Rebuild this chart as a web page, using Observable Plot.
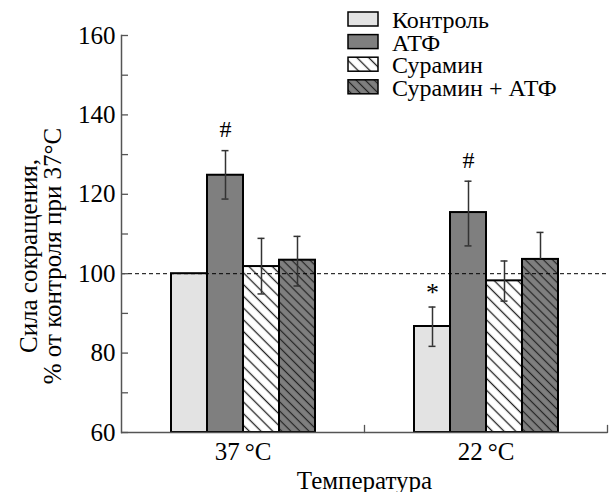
<!DOCTYPE html>
<html><head><meta charset="utf-8">
<script src="https://cdn.jsdelivr.net/npm/d3@7"></script>
<script src="https://cdn.jsdelivr.net/npm/@observablehq/plot@0.6"></script>
<style>
body{margin:0;background:#fff;}
#chart{position:relative;width:613px;height:492px;}
</style>
</head><body>
<svg width="0" height="0" style="position:absolute">
<defs>
<pattern id="hatchLight" patternUnits="userSpaceOnUse" width="8.3" height="8.3" patternTransform="rotate(-45)">
<rect width="8.3" height="8.3" fill="#ffffff"/>
<line x1="4.15" y1="-1" x2="4.15" y2="9.3" stroke="#222" stroke-width="1.3"/>
</pattern>
<pattern id="hatchDark" patternUnits="userSpaceOnUse" width="6.4" height="6.4" patternTransform="rotate(-45)">
<rect width="6.4" height="6.4" fill="#7f7f7f"/>
<line x1="3.2" y1="-1" x2="3.2" y2="7.4" stroke="#222" stroke-width="1.2"/>
</pattern>
</defs></svg>
<div id="chart"></div>
<script>
// ---- data ----
const groups = ["37\u2009°C", "22\u2009°C"];
const series = ["Контроль", "АТФ", "Сурамин", "Сурамин + АТФ"];
const means37 = [100, 124.8, 101.8, 103.4];
const errUp37 = [0, 6.2, 7.1, 6.0];
const errLow37 = [0, 6.0, 6.9, 6.5];
const means22 = [86.7, 115.4, 98.2, 103.6];
const errUp22 = [4.9, 7.9, 5.0, 6.8];
const errLow22 = [5.0, 8.4, 5.1, 0];
const sig37 = ["", "#", "", ""];
const sig22 = ["*", "#", "", ""];
const yTicks = [60, 80, 100, 120, 140, 160];
const yAllTicks = [60, 70, 80, 90, 100, 110, 120, 130, 140, 150, 160];
const referenceLevel = [100];
const fills = ["#e3e3e3", "#7f7f7f", "url(#hatchLight)", "url(#hatchDark)"];
const yLabel = "Сила сокращения,\n% от контроля при 37°С";
const xLabel = "Температура";

const rows = [];
series.forEach((s, i) => {
  rows.push({group: groups[0], series: s, mean: means37[i], up: errUp37[i], low: errLow37[i], sig: sig37[i]});
});
series.forEach((s, i) => {
  rows.push({group: groups[1], series: s, mean: means22[i], up: errUp22[i], low: errLow22[i], sig: sig22[i]});
});

const font = "\"Liberation Serif\", \"Times New Roman\", Times, serif";
const axisColor = "#555";

const plot = Plot.plot({
  width: 613, height: 492,
  marginLeft: 121, marginRight: 6, marginTop: 35, marginBottom: 60,
  style: {fontFamily: font, fontSize: "25px", color: "#000", background: "#fff"},
  fx: {domain: groups, padding: 0},
  x: {domain: series, paddingInner: 0, paddingOuter: 1.33, axis: null},
  y: {domain: [60, 160], axis: null},
  color: {domain: series, range: fills},
  marks: [
    Plot.barY(rows, {fx: "group", x: "series", y1: 60, y2: "mean", fill: "series", stroke: "#000", strokeWidth: 2}),
    Plot.ruleY(referenceLevel, {stroke: "#000", strokeWidth: 1, strokeDasharray: "4,3"}),
    Plot.ruleX(rows.filter(d => d.up > 0), {fx: "group", x: "series", y1: d => d.mean - d.low, y2: d => d.mean + d.up, stroke: "#333", strokeWidth: 1.5}),
    Plot.tickY(rows.filter(d => d.up > 0), {fx: "group", x: "series", y: d => d.mean + d.up, stroke: "#333", strokeWidth: 1.5, inset: 14.5}),
    Plot.tickY(rows.filter(d => d.low > 0), {fx: "group", x: "series", y: d => d.mean - d.low, stroke: "#333", strokeWidth: 1.5, inset: 14.5}),
    Plot.text(rows.filter(d => d.sig === "#"), {fx: "group", x: "series", y: d => d.mean + d.up, text: "sig", dy: -21, fontSize: 24}),
    Plot.text(rows.filter(d => d.sig === "*"), {fx: "group", x: "series", y: d => d.mean + d.up, text: "sig", dy: -14, fontSize: 26}),
    // axes
    Plot.ruleY([60], {stroke: axisColor, strokeWidth: 1.5}),
    Plot.frame({anchor: "left", facetAnchor: "left", stroke: axisColor, strokeWidth: 1.5}),
    Plot.axisY(yTicks, {anchor: "left", tickSize: 0, tickPadding: 6, fontSize: 25, label: null}),
    Plot.axisY(yAllTicks, {anchor: "left", tickSize: -7, fill: "none", stroke: axisColor, strokeWidth: 1.3, label: null}),
    Plot.vector([0], {frameAnchor: "bottom-right", anchor: "start", rotate: 0, length: 7, stroke: axisColor, strokeWidth: 1.3,
      shape: {draw(ctx, l) { ctx.moveTo(0, 0); ctx.lineTo(0, -l); }}}),
    Plot.axisFx({anchor: "bottom", tickSize: 0, tickPadding: 10, fontSize: 25, label: xLabel, labelAnchor: "center", labelOffset: 56, labelArrow: "none"}),
    Plot.text([groups[0]], {fx: d => d, frameAnchor: "left", textAnchor: "middle", text: () => yLabel, rotate: -90, dx: -80, dy: 22, fontSize: 25, lineHeight: 0.96})
  ]
});

// legend
const svg = d3.select(plot);
const lg = svg.append("g").attr("class", "legend").attr("text-anchor", "start");
series.forEach((s, i) => {
  const y0 = 12 + 22.6 * i;
  lg.append("rect").attr("x", 348).attr("y", y0).attr("width", 30).attr("height", 14)
    .attr("fill", fills[i]).attr("stroke", "#000").attr("stroke-width", 1.5);
  lg.append("text").attr("x", 392).attr("y", y0 + 16).attr("font-size", 24)
    .attr("font-family", font).attr("fill", "#000").text(s);
});

document.getElementById("chart").appendChild(plot);
</script>
</body></html>
